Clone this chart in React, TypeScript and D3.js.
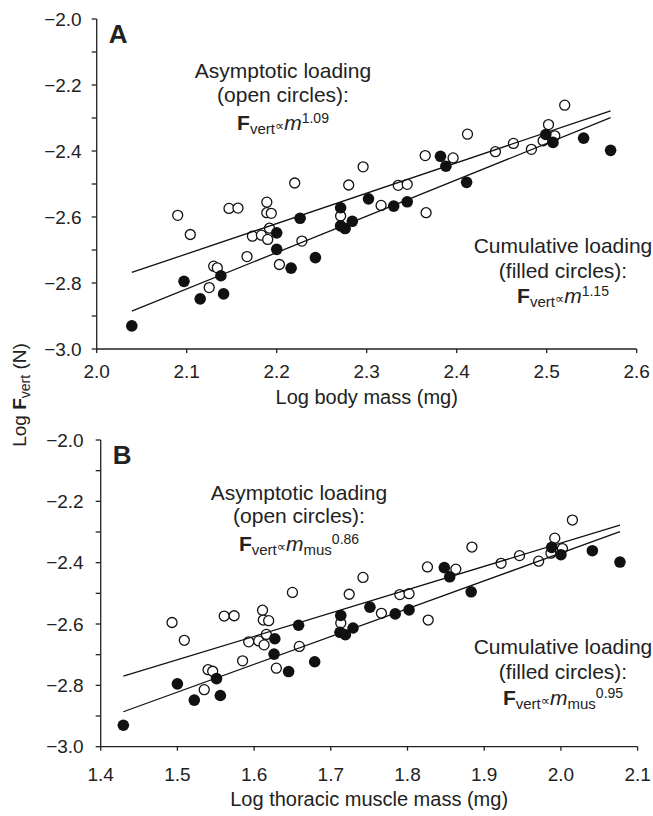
import React from "react";
import * as d3 from "d3";

// ---- Data (shared force values; x differs per panel) ----
const forceFilled = [-2.93, -2.795, -2.848, -2.778, -2.833, -2.648, -2.698, -2.755, -2.604, -2.723, -2.572, -2.627, -2.635, -2.613, -2.545, -2.567, -2.554, -2.416, -2.446, -2.495, -2.35, -2.374, -2.361, -2.398];
const bodyMassFilled = [2.039, 2.097, 2.115, 2.138, 2.141, 2.2, 2.2, 2.216, 2.226, 2.243, 2.271, 2.271, 2.276, 2.284, 2.302, 2.33, 2.345, 2.382, 2.388, 2.411, 2.499, 2.507, 2.541, 2.571];
const muscleMassFilled = [1.4295, 1.5, 1.522, 1.551, 1.556, 1.627, 1.626, 1.645, 1.658, 1.679, 1.713, 1.712, 1.719, 1.729, 1.751, 1.784, 1.802, 1.848, 1.855, 1.883, 1.988, 2.0, 2.041, 2.077];

const forceOpen = [-2.595, -2.653, -2.814, -2.749, -2.754, -2.574, -2.573, -2.72, -2.658, -2.655, -2.555, -2.587, -2.589, -2.668, -2.634, -2.744, -2.497, -2.673, -2.597, -2.503, -2.448, -2.565, -2.504, -2.501, -2.414, -2.587, -2.421, -2.349, -2.402, -2.377, -2.395, -2.369, -2.32, -2.354, -2.261];
const bodyMassOpen = [2.09, 2.104, 2.125, 2.13, 2.134, 2.147, 2.157, 2.167, 2.173, 2.183, 2.189, 2.189, 2.194, 2.19, 2.192, 2.203, 2.22, 2.228, 2.271, 2.28, 2.296, 2.316, 2.335, 2.345, 2.365, 2.366, 2.396, 2.412, 2.443, 2.463, 2.483, 2.496, 2.502, 2.509, 2.52];
const muscleMassOpen = [1.493, 1.509, 1.535, 1.54, 1.546, 1.561, 1.574, 1.585, 1.593, 1.606, 1.611, 1.612, 1.619, 1.613, 1.616, 1.629, 1.65, 1.659, 1.713, 1.724, 1.742, 1.766, 1.79, 1.802, 1.826, 1.827, 1.863, 1.884, 1.922, 1.946, 1.971, 1.987, 1.992, 2.002, 2.015];

// fits: [slope, intercept]
const fitA_open = [0.921, -4.646];
const fitA_filled = [1.1015, -5.131];
const fitB_open = [0.761, -3.858];
const fitB_filled = [0.9066, -4.182];

const yTicks = [-3.0, -2.9, -2.8, -2.7, -2.6, -2.5, -2.4, -2.3, -2.2, -2.1, -2.0];
const yTickLabels = [-3.0, -2.8, -2.6, -2.4, -2.2, -2.0];
const xTicksA = [2.0, 2.1, 2.2, 2.3, 2.4, 2.5, 2.6];
const xTicksB = [1.4, 1.5, 1.6, 1.7, 1.8, 1.9, 2.0, 2.1];

const FONT = "'Liberation Sans', Arial, Helvetica, sans-serif";

type PanelProps = {
  letter: string;
  xDomain: [number, number];
  xRange: [number, number];
  yRange: [number, number];
  xTicks: number[];
  xFilled: number[];
  xOpen: number[];
  fitOpen: number[];
  fitFilled: number[];
  xTitle: string;
  labelGap: number;
  xLabelDy: number;
  xTitleDy: number;
  asym: { cx: number; y: number[] };
  cum: { cx: number; y: number[] };
  sub?: string;
  expOpen: string;
  expFilled: string;
};

function fmt(v: number) {
  const s = Math.abs(v).toFixed(1);
  return v < 0 ? "\u2212" + s : s;
}

function Formula({ cx, y, sub, exp }: { cx: number; y: number; sub?: string; exp: string }) {
  return (
    <text x={cx} y={y} textAnchor="middle" fontSize={21} fontFamily={FONT}>
      <tspan fontWeight="bold">F</tspan>
      <tspan fontSize={15} dy={4}>vert</tspan>
      <tspan fontSize={13} dy={-4} fontFamily="'DejaVu Sans', sans-serif">{"\u221D"}</tspan>
      <tspan fontStyle="italic">m</tspan>
      {sub ? (
        <>
          <tspan fontSize={15} dy={4}>{sub}</tspan>
          <tspan fontSize={14} dy={-11}>{exp}</tspan>
        </>
      ) : (
        <tspan fontSize={14} dy={-7}>{exp}</tspan>
      )}
    </text>
  );
}

function Panel(p: PanelProps) {
  const x = d3.scaleLinear().domain(p.xDomain).range(p.xRange);
  const y = d3.scaleLinear().domain([-3.0, -2.0]).range(p.yRange);
  const allX = [...p.xFilled, ...p.xOpen];
  const [x0, x1] = d3.extent(allX) as [number, number];
  const fitPath = (f: number[]) =>
    d3.line<number>().x((d) => x(d)).y((d) => y(f[0] * d + f[1]))([x0, x1]) || "";
  const axX = p.xRange[0];
  const axY = p.yRange[0];
  return (
    <g>
      {/* y axis */}
      <line x1={axX} x2={axX} y1={y(-3.0)} y2={y(-2.0)} stroke="#222" strokeWidth={1.3} />
      {yTicks.map((t) => (
        <line key={"yt" + t} x1={axX - 5} x2={axX} y1={y(t)} y2={y(t)} stroke="#222" strokeWidth={1.3} />
      ))}
      {yTickLabels.map((t) => (
        <text key={"yl" + t} x={axX - p.labelGap} y={y(t)} dy="0.35em" textAnchor="end" fontSize={19} fontFamily={FONT} fill="#222">
          {fmt(t)}
        </text>
      ))}
      {/* x axis */}
      <line x1={x(p.xDomain[0])} x2={x(p.xDomain[1])} y1={axY} y2={axY} stroke="#222" strokeWidth={1.3} />
      {p.xTicks.map((t) => (
        <line key={"xt" + t} x1={x(t)} x2={x(t)} y1={axY} y2={axY + 4} stroke="#222" strokeWidth={1.3} />
      ))}
      {p.xTicks.map((t) => (
        <text key={"xl" + t} x={x(t)} y={axY + p.xLabelDy} textAnchor="middle" fontSize={19} fontFamily={FONT} fill="#222">
          {t.toFixed(1)}
        </text>
      ))}
      <text x={(p.xRange[0] + p.xRange[1]) / 2} y={axY + p.xTitleDy} textAnchor="middle" fontSize={20} fontFamily={FONT} fill="#222">
        {p.xTitle}
      </text>
      {/* panel letter */}
      <text x={axX + 12} y={p.yRange[1] + 24} fontSize={26} fontWeight="bold" fontFamily={FONT} fill="#222">
        {p.letter}
      </text>
      {/* open circles */}
      {p.xOpen.map((v, i) => (
        <circle key={"o" + i} cx={x(v)} cy={y(forceOpen[i])} r={5} fill="#fff" stroke="#111" strokeWidth={1.3} />
      ))}
      {/* fit lines */}
      <path d={fitPath(p.fitOpen)} stroke="#111" strokeWidth={1.3} fill="none" />
      <path d={fitPath(p.fitFilled)} stroke="#111" strokeWidth={1.3} fill="none" />
      {/* filled circles */}
      {p.xFilled.map((v, i) => (
        <circle key={"f" + i} cx={x(v)} cy={y(forceFilled[i])} r={5.8} fill="#111" />
      ))}
      {/* annotations */}
      <g fill="#222">
        <text x={p.asym.cx} y={p.asym.y[0]} textAnchor="middle" fontSize={21} fontFamily={FONT}>Asymptotic loading</text>
        <text x={p.asym.cx} y={p.asym.y[1]} textAnchor="middle" fontSize={21} fontFamily={FONT}>(open circles):</text>
        <Formula cx={p.asym.cx} y={p.asym.y[2]} sub={p.sub} exp={p.expOpen} />
        <text x={p.cum.cx} y={p.cum.y[0]} textAnchor="middle" fontSize={21} fontFamily={FONT}>Cumulative loading</text>
        <text x={p.cum.cx} y={p.cum.y[1]} textAnchor="middle" fontSize={21} fontFamily={FONT}>(filled circles):</text>
        <Formula cx={p.cum.cx} y={p.cum.y[2]} sub={p.sub} exp={p.expFilled} />
      </g>
    </g>
  );
}

export default function App() {
  return (
    <svg
      width={653}
      height={816}
      style={{ position: "absolute", left: 0, top: 0, background: "#fff" }}
      fontFamily={FONT}
    >
      <rect width={653} height={816} fill="#fff" />
      <Panel
        letter="A"
        xDomain={[2.0, 2.6]}
        xRange={[96.7, 636.7]}
        yRange={[349, 19]}
        xTicks={xTicksA}
        xFilled={bodyMassFilled}
        xOpen={bodyMassOpen}
        fitOpen={fitA_open}
        fitFilled={fitA_filled}
        xTitle="Log body mass (mg)"
        labelGap={15}
        xLabelDy={29}
        xTitleDy={55}
        asym={{ cx: 283, y: [78, 102, 130] }}
        cum={{ cx: 563, y: [253, 278, 303] }}
        expOpen="1.09"
        expFilled="1.15"
      />
      <Panel
        letter="B"
        xDomain={[1.4, 2.1]}
        xRange={[100.7, 637.6]}
        yRange={[746.7, 440]}
        xTicks={xTicksB}
        xFilled={muscleMassFilled}
        xOpen={muscleMassOpen}
        fitOpen={fitB_open}
        fitFilled={fitB_filled}
        xTitle="Log thoracic muscle mass (mg)"
        labelGap={17}
        xLabelDy={34}
        xTitleDy={59}
        asym={{ cx: 299, y: [500, 523, 551] }}
        cum={{ cx: 563, y: [654, 679, 705] }}
        sub="mus"
        expOpen="0.86"
        expFilled="0.95"
      />
      <text transform="translate(26,395) rotate(-90)" textAnchor="middle" fontSize={19} fontFamily={FONT} fill="#222">
        Log <tspan fontWeight="bold">F</tspan>
        <tspan fontSize={14} dy={4}>vert</tspan>
        <tspan dy={-4}> (N)</tspan>
      </text>
    </svg>
  );
}
